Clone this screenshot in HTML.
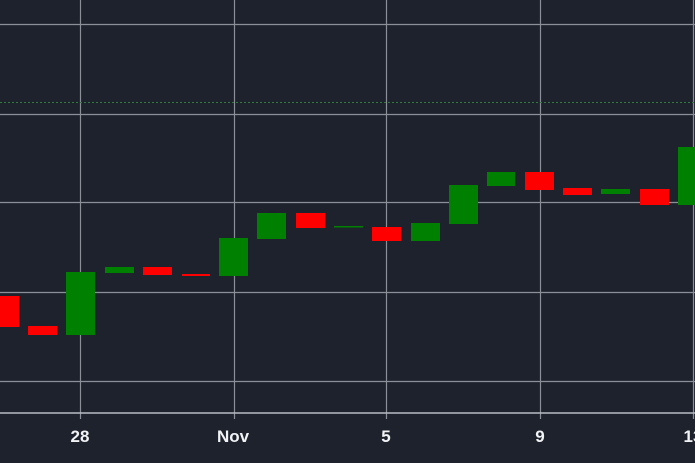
<!DOCTYPE html>
<html><head><meta charset="utf-8"><style>
html,body{margin:0;padding:0;background:#1e222d;}
svg{display:block;}
</style></head><body>
<svg width="695" height="463" viewBox="0 0 695 463" xmlns="http://www.w3.org/2000/svg">
<rect width="695" height="463" fill="#1e222d"/>
<g stroke="#9ea2ab" stroke-width="1.2" opacity="0.85">
<line x1="0" y1="24.5" x2="695" y2="24.5"/>
<line x1="0" y1="114.5" x2="695" y2="114.5"/>
<line x1="0" y1="202.5" x2="695" y2="202.5"/>
<line x1="0" y1="292.5" x2="695" y2="292.5"/>
<line x1="0" y1="381.5" x2="695" y2="381.5"/>
<line x1="80.5" y1="0" x2="80.5" y2="419"/>
<line x1="234.5" y1="0" x2="234.5" y2="419"/>
<line x1="386.5" y1="0" x2="386.5" y2="419"/>
<line x1="540.5" y1="0" x2="540.5" y2="419"/>
<line x1="693.5" y1="0" x2="693.5" y2="419"/>
</g>
<line x1="0" y1="413" x2="695" y2="413" stroke="#b8bcc4" stroke-width="1.5"/>
<line x1="0" y1="102.5" x2="695" y2="102.5" stroke="#347a40" stroke-width="1" stroke-dasharray="2,2"/>
<g>
<rect x="-10" y="296" width="29" height="31" fill="#ff0000"/>
<rect x="28" y="326" width="29" height="9" fill="#ff0000"/>
<rect x="66" y="272" width="29" height="63" fill="#008000"/>
<rect x="105" y="267" width="29" height="6" fill="#008000"/>
<rect x="143" y="267" width="29" height="8" fill="#ff0000"/>
<rect x="182" y="274" width="28" height="2" fill="#ff0000"/>
<rect x="219" y="238" width="29" height="38" fill="#008000"/>
<rect x="257" y="213" width="29" height="26" fill="#008000"/>
<rect x="296" y="213" width="29" height="15" fill="#ff0000"/>
<rect x="334" y="226" width="29" height="1.5" fill="#008000"/>
<rect x="372" y="227" width="29" height="14" fill="#ff0000"/>
<rect x="411" y="223" width="29" height="18" fill="#008000"/>
<rect x="449" y="185" width="29" height="39" fill="#008000"/>
<rect x="487" y="172" width="28" height="14" fill="#008000"/>
<rect x="525" y="172" width="29" height="18" fill="#ff0000"/>
<rect x="563" y="188" width="29" height="7" fill="#ff0000"/>
<rect x="601" y="189" width="29" height="5" fill="#008000"/>
<rect x="640" y="189" width="29" height="16" fill="#ff0000"/>
<rect x="678" y="147" width="29" height="58" fill="#008000"/>
</g>
<g fill="#f2f3f5" font-family="Liberation Sans, sans-serif" font-size="17" font-weight="bold" text-anchor="middle">
<text x="80" y="442">28</text>
<text x="233" y="442">Nov</text>
<text x="386" y="442">5</text>
<text x="540" y="442">9</text>
<text x="693" y="442">13</text>
</g>
</svg>
</body></html>
